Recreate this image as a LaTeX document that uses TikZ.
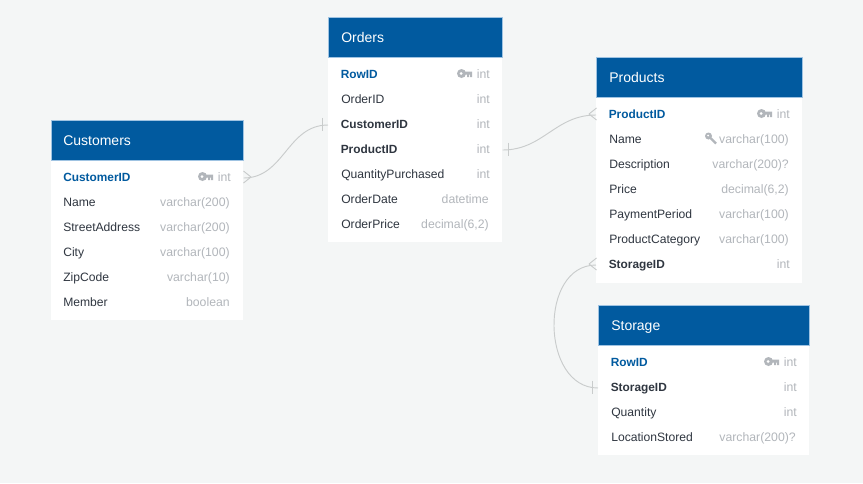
\documentclass[tikz,border=0pt]{standalone}
\usepackage{fontspec}
\setmainfont{Liberation Sans}
\definecolor{pagebg}{HTML}{F4F6F6}
\definecolor{headblue}{HTML}{015A9F}
\definecolor{headedge}{HTML}{9FC3E2}
\definecolor{nametext}{HTML}{2F3640}
\definecolor{typetext}{HTML}{B2B6BB}
\definecolor{linkgrey}{HTML}{C9CCCC}
\tikzset{
	tablehead/.style={anchor=north west,fill=headblue,draw=headedge,line width=0.3pt,inner sep=0pt,minimum height=30pt},
	tablebody/.style={anchor=north west,fill=white,inner sep=0pt},
	headtext/.style={anchor=west,inner sep=0pt,yshift=-1.5pt,text height=8pt,text depth=2.5pt,text=white,font=\fontsize{10.5}{12}\selectfont},
	fieldname/.style={anchor=west,inner sep=0pt,yshift=-0.75pt,text height=7pt,text depth=2pt,text=nametext,font=\fontsize{9.1}{11}\selectfont},
	fieldkey/.style={fieldname,font=\fontsize{8.9}{11}\selectfont\bfseries},
	fieldpk/.style={fieldkey,text=headblue},
	fieldtype/.style={anchor=east,inner sep=0pt,yshift=-0.75pt,text height=7pt,text depth=2pt,text=typetext,font=\fontsize{9.2}{11}\selectfont},
	link/.style={draw=linkgrey,line width=0.7pt},
	crowfoot/.pic={\draw[link] (0,0) -- (7.5,-6) (0,0) -- (7.5,6);},
	onetick/.pic={\draw[link] (0,-6.5) -- (0,6.5);},
	keyicon/.pic={
		\fill[typetext] (4.5,0) circle (4.5);
		\fill[white] (4,0) circle (1.5);
		\fill[typetext] (7,-2) rectangle (15,1) (10,1) rectangle (12,3.5) (13,1) rectangle (15,3.5);
	},
	searchicon/.pic={
		\fill[typetext] (3.5,-3.5) circle (3.5);
		\fill[white] (3,-4) circle (1);
		\draw[typetext,line width=1.6pt] (5.5,-1.5) -- (11,4);
	}
}
\begin{document}
\begin{tikzpicture}[x=0.75pt,y=-0.75pt]
	\useasboundingbox[fill=pagebg] (0,0) rectangle (863,483);

	% Customers
	\node[tablebody,minimum width=144pt,minimum height=120pt] (custbody) at (51,160) {};
	\node[tablehead,minimum width=144pt] (custhead) at (51,120) {};
	\node[headtext] (custtitle) at (63,140) {Customers};
	\node[fieldpk] (custid) at (63,177) {CustomerID};
	\node[fieldtype] (custidtype) at (231,177) {int};
	\node[fieldname] (custname) at (63,202) {Name};
	\node[fieldtype] (custnametype) at (230,202) {varchar(200)};
	\node[fieldname] (custstreet) at (63,227) {StreetAddress};
	\node[fieldtype] (custstreettype) at (230,227) {varchar(200)};
	\node[fieldname] (custcity) at (63,252) {City};
	\node[fieldtype] (custcitytype) at (230,252) {varchar(100)};
	\node[fieldname] (custzip) at (63,277) {ZipCode};
	\node[fieldtype] (custziptype) at (230,277) {varchar(10)};
	\node[fieldname] (custmember) at (63,302) {Member};
	\node[fieldtype] (custmembertype) at (230,302) {boolean};
	\pic at (198,176.5) {keyicon};

	% Orders
	\node[tablebody,minimum width=130.5pt,minimum height=138.75pt] (ordbody) at (328,57) {};
	\node[tablehead,minimum width=130.5pt] (ordhead) at (328,17) {};
	\node[headtext] (ordtitle) at (341,37) {Orders};
	\node[fieldpk] (ordrow) at (340.5,74) {RowID};
	\node[fieldtype] (ordrowtype) at (490,74) {int};
	\node[fieldname] (ordid) at (341,99) {OrderID};
	\node[fieldtype] (ordidtype) at (490,99) {int};
	\node[fieldkey] (ordcust) at (340.5,124) {CustomerID};
	\node[fieldtype] (ordcusttype) at (490,124) {int};
	\node[fieldkey] (ordprod) at (340.5,149) {ProductID};
	\node[fieldtype] (ordprodtype) at (490,149) {int};
	\node[fieldname] (ordqty) at (341,174) {QuantityPurchased};
	\node[fieldtype] (ordqtytype) at (490,174) {int};
	\node[fieldname] (orddate) at (341,199) {OrderDate};
	\node[fieldtype] (orddatetype) at (489,199) {datetime};
	\node[fieldname] (ordprice) at (341,224) {OrderPrice};
	\node[fieldtype] (ordpricetype) at (489,224) {decimal(6,2)};
	\pic at (457,73.5) {keyicon};

	% Products
	\node[tablebody,minimum width=154.5pt,minimum height=139.5pt] (prodbody) at (596,97) {};
	\node[tablehead,minimum width=154.5pt] (prodhead) at (596,57) {};
	\node[headtext] (prodtitle) at (609,77) {Products};
	\node[fieldpk] (prodid) at (608.5,114) {ProductID};
	\node[fieldtype] (prodidtype) at (790,114) {int};
	\node[fieldname] (prodname) at (609,139) {Name};
	\node[fieldtype] (prodnametype) at (789,139) {varchar(100)};
	\node[fieldname] (proddesc) at (609,164) {Description};
	\node[fieldtype] (proddesctype) at (789,164) {varchar(200)?};
	\node[fieldname] (prodprice) at (609,189) {Price};
	\node[fieldtype] (prodpricetype) at (789,189) {decimal(6,2)};
	\node[fieldname] (prodpay) at (609,214) {PaymentPeriod};
	\node[fieldtype] (prodpaytype) at (789,214) {varchar(100)};
	\node[fieldname] (prodcat) at (609,239) {ProductCategory};
	\node[fieldtype] (prodcattype) at (789,239) {varchar(100)};
	\node[fieldkey] (prodstore) at (608.5,264) {StorageID};
	\node[fieldtype] (prodstoretype) at (790,264) {int};
	\pic at (757,113.5) {keyicon};
	\pic at (705,139.5) {searchicon};

	% Storage
	\node[tablebody,minimum width=158.25pt,minimum height=82.5pt] (storebody) at (598,345) {};
	\node[tablehead,minimum width=158.25pt] (storehead) at (598,305) {};
	\node[headtext] (storetitle) at (611,325) {Storage};
	\node[fieldpk] (storerow) at (610.5,362) {RowID};
	\node[fieldtype] (storerowtype) at (797,362) {int};
	\node[fieldkey] (storeid) at (610.5,387) {StorageID};
	\node[fieldtype] (storeidtype) at (797,387) {int};
	\node[fieldname] (storeqty) at (611,412) {Quantity};
	\node[fieldtype] (storeqtytype) at (797,412) {int};
	\node[fieldname] (storeloc) at (611,437) {LocationStored};
	\node[fieldtype] (storeloctype) at (796,437) {varchar(200)?};
	\pic at (764,361.5) {keyicon};

	% links
	\draw[link] (custbody.east |- custid) to[out=0,in=180,looseness=1.05] (ordbody.west |- ordcust);
	\pic[xscale=-1] at (251,177) {crowfoot};
	\pic at (322.5,124) {onetick};

	\draw[link] (ordbody.east |- ordprod) to[out=0,in=180,looseness=1.05] (prodbody.west |- prodid);
	\pic at (589,114) {crowfoot};
	\pic at (508,149) {onetick};

	\draw[link] (prodbody.west |- prodstore) to[out=180,in=180,distance=43pt] (storebody.west |- storeid);
	\pic at (589,264) {crowfoot};
	\pic at (592,387) {onetick};
\end{tikzpicture}
\end{document}
